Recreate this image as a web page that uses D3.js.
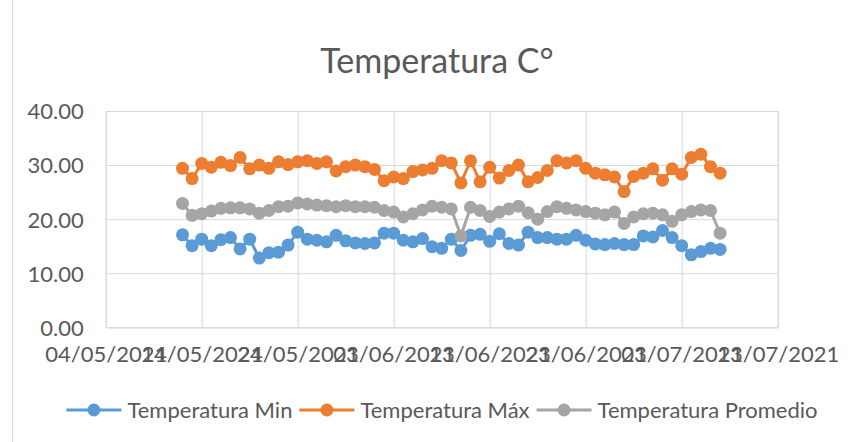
<!DOCTYPE html>
<html>
<head>
<meta charset="utf-8">
<script src="https://cdn.jsdelivr.net/npm/d3@7"></script>
<style>
  html, body { margin: 0; padding: 0; background: #ffffff; }
  svg { display: block; font-family: Lato, "Open Sans", sans-serif; }
</style>
</head>
<body>
<svg id="chart" width="852" height="442"></svg>
<script>
// Daily readings, 12/05/2021 – 07/07/2021
const fechas = [
  "12/05/2021","13/05/2021","14/05/2021","15/05/2021","16/05/2021","17/05/2021","18/05/2021","19/05/2021","20/05/2021","21/05/2021",
  "22/05/2021","23/05/2021","24/05/2021","25/05/2021","26/05/2021","27/05/2021","28/05/2021","29/05/2021","30/05/2021","31/05/2021",
  "01/06/2021","02/06/2021","03/06/2021","04/06/2021","05/06/2021","06/06/2021","07/06/2021","08/06/2021","09/06/2021","10/06/2021",
  "11/06/2021","12/06/2021","13/06/2021","14/06/2021","15/06/2021","16/06/2021","17/06/2021","18/06/2021","19/06/2021","20/06/2021",
  "21/06/2021","22/06/2021","23/06/2021","24/06/2021","25/06/2021","26/06/2021","27/06/2021","28/06/2021","29/06/2021","30/06/2021",
  "01/07/2021","02/07/2021","03/07/2021","04/07/2021","05/07/2021","06/07/2021","07/07/2021"
];

const tempMin = [
  17.1, 15.1, 16.3, 15.1, 16.2, 16.6, 14.5, 16.3, 12.8, 13.8,
  13.9, 15.2, 17.6, 16.3, 16.1, 15.8, 17.0, 16.0, 15.6, 15.5,
  15.6, 17.4, 17.4, 16.1, 15.8, 16.4, 14.9, 14.6, 16.3, 14.2,
  17.0, 17.2, 15.9, 17.3, 15.5, 15.2, 17.6, 16.6, 16.6, 16.3,
  16.3, 17.0, 16.1, 15.4, 15.3, 15.5, 15.3, 15.3, 16.9, 16.7,
  17.9, 16.6, 15.1, 13.4, 14.0, 14.6, 14.4
];

const tempMax = [
  29.4, 27.5, 30.3, 29.6, 30.5, 29.9, 31.4, 29.3, 30.0, 29.4,
  30.6, 30.1, 30.6, 30.8, 30.3, 30.6, 28.9, 29.7, 30.0, 29.7,
  29.2, 27.1, 27.8, 27.5, 28.8, 29.1, 29.4, 30.8, 30.4, 26.7,
  30.8, 26.9, 29.6, 27.6, 29.0, 30.0, 26.9, 27.7, 29.0, 30.8,
  30.4, 30.8, 29.4, 28.5, 28.2, 27.8, 25.1, 27.9, 28.5, 29.3,
  27.2, 29.3, 28.3, 31.4, 32.0, 29.7, 28.5
];

const tempProm = [
  22.9, 20.7, 21.0, 21.5, 22.0, 22.1, 22.1, 21.9, 21.1, 21.6,
  22.3, 22.4, 23.0, 22.8, 22.6, 22.5, 22.3, 22.5, 22.3, 22.3,
  22.2, 21.6, 21.3, 20.4, 21.0, 21.7, 22.4, 22.2, 21.9, 16.9,
  22.2, 21.6, 20.5, 21.3, 21.9, 22.4, 21.2, 20.0, 21.4, 22.3,
  22.0, 21.7, 21.4, 21.1, 20.8, 21.3, 19.2, 20.4, 21.0, 21.1,
  20.8, 19.6, 20.8, 21.4, 21.7, 21.6, 17.4
];

const seriesNames = ["Temperatura Min", "Temperatura Máx", "Temperatura Promedio"];
const seriesColors = ["#5B9BD5", "#ED7D31", "#A5A5A5"];

const xTickLabels = ["04/05/2021","14/05/2021","24/05/2021","03/06/2021","13/06/2021","23/06/2021","03/07/2021","13/07/2021"];
const yTickValues = [0, 10, 20, 30, 40];

const parseDate = d3.utcParse("%d/%m/%Y");
const fmtDate = d3.utcFormat("%d/%m/%Y");

const svg = d3.select("#chart");
const W = 852, H = 442;

// chart area border (left edge visible)
svg.append("line")
  .attr("x1", 12.5).attr("x2", 12.5).attr("y1", 0).attr("y2", H)
  .attr("stroke", "#d9d9d9").attr("stroke-width", 1);

const plot = { left: 105.7, right: 777.7, top: 111, bottom: 327.3 };

const x = d3.scaleUtc()
  .domain([parseDate(xTickLabels[0]), parseDate(xTickLabels[xTickLabels.length - 1])])
  .range([plot.left, plot.right]);

const y = d3.scaleLinear()
  .domain([0, 40])
  .range([plot.bottom, plot.top]);

// title
svg.append("text")
  .attr("x", 437).attr("y", 73)
  .attr("text-anchor", "middle")
  .attr("fill", "#595959")
  .attr("font-size", 34)
  .text("Temperatura C°");

// horizontal gridlines + y labels
const yAxis = d3.axisLeft(y)
  .tickValues(yTickValues)
  .tickSize(-(plot.right - plot.left))
  .tickPadding(22)
  .tickFormat(d3.format(".2f"));

const gy = svg.append("g")
  .attr("transform", `translate(${plot.left},0)`)
  .call(yAxis);
gy.select(".domain").remove();
gy.selectAll(".tick line").attr("stroke", "#d9d9d9").attr("stroke-width", 1);
gy.selectAll(".tick text")
  .attr("fill", "#595959")
  .attr("font-size", 22)
  .attr("font-family", "Lato, sans-serif")
  .attr("dy", "0.36em");

// vertical gridlines + x labels
const xAxis = d3.axisBottom(x)
  .tickValues(xTickLabels.map(parseDate))
  .tickSize(-(plot.bottom - plot.top))
  .tickPadding(22)
  .tickFormat(fmtDate);

const gx = svg.append("g")
  .attr("transform", `translate(0,${plot.bottom})`)
  .call(xAxis);
gx.select(".domain").attr("stroke", "#d9d9d9");
gx.selectAll(".tick line").attr("stroke", "#d9d9d9").attr("stroke-width", 1);
gx.selectAll(".tick text")
  .attr("fill", "#595959")
  .attr("font-size", 22)
  .attr("font-family", "Lato, sans-serif")
  .attr("dy", "0.6em");

// series
const dates = fechas.map(parseDate);
const seriesData = [tempMin, tempMax, tempProm];

const line = d3.line()
  .x((d, i) => x(dates[i]))
  .y(d => y(d));

seriesData.forEach((vals, si) => {
  const g = svg.append("g");
  g.append("path")
    .datum(vals)
    .attr("d", line)
    .attr("fill", "none")
    .attr("stroke", seriesColors[si])
    .attr("stroke-width", 3)
    .attr("stroke-linejoin", "round")
    .attr("stroke-linecap", "round");
  g.selectAll("circle")
    .data(vals)
    .join("circle")
    .attr("cx", (d, i) => x(dates[i]))
    .attr("cy", d => y(d))
    .attr("r", 6.5)
    .attr("fill", seriesColors[si]);
});

// legend
const legend = svg.append("g").attr("transform", "translate(0,410)");
const items = legend.selectAll("g.item")
  .data(seriesNames)
  .join("g")
  .attr("class", "item");

items.append("line")
  .attr("x1", 0).attr("x2", 55)
  .attr("stroke", (d, i) => seriesColors[i])
  .attr("stroke-width", 3);
items.append("circle")
  .attr("cx", 27.5).attr("r", 6.5)
  .attr("fill", (d, i) => seriesColors[i]);
items.append("text")
  .attr("x", 61)
  .attr("dy", "0.36em")
  .attr("fill", "#595959")
  .attr("font-size", 22)
  .text(d => d);

const gap = 7;
const widths = [];
items.each(function () { widths.push(this.getBBox().width); });
const total = d3.sum(widths) + gap * (widths.length - 1);
let cx = 442 - total / 2;
items.attr("transform", (d, i) => {
  const t = `translate(${cx},0)`;
  cx += widths[i] + gap;
  return t;
});
</script>
</body>
</html>
